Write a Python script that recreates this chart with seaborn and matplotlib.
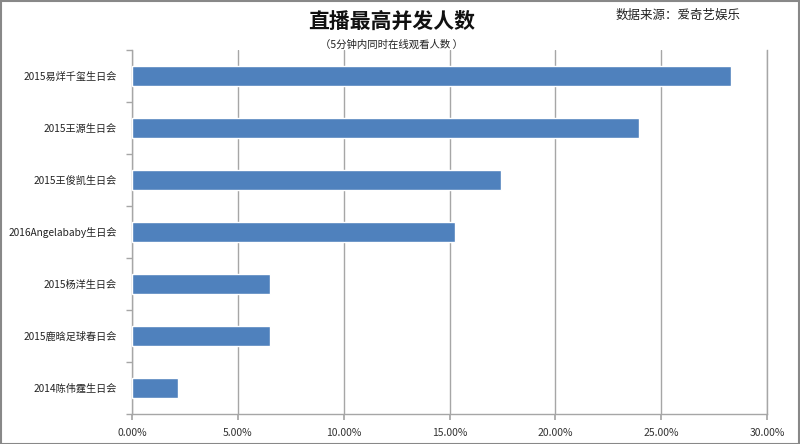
import matplotlib
matplotlib.use("Agg")
import matplotlib.pyplot as plt
import seaborn as sns
import pandas as pd
import numpy as np
from matplotlib.ticker import FuncFormatter, FixedLocator
from matplotlib.patches import Rectangle

categories = ["2015易烊千玺生日会", "2015王源生日会", "2015王俊凯生日会",
              "2016Angelababy生日会", "2015杨洋生日会", "2015鹿晗足球春日会",
              "2014陈伟霆生日会"]
values = [28.3, 23.95, 17.43, 15.26, 6.52, 6.52, 2.17]
xticks = [0, 5, 10, 15, 20, 25, 30]

sns.set_theme(style="white")
plt.rcParams['font.family'] = ['Noto Sans CJK SC', 'DejaVu Sans']

df = pd.DataFrame({"cat": categories, "val": values})

fig = plt.figure(figsize=(8, 4.44), dpi=100)
ax = fig.add_axes([0.165, 0.0676, 0.79375, 0.82])

sns.barplot(data=df, x="val", y="cat", orient="h", color="#4F81BD",
            saturation=1, width=0.4, ax=ax, zorder=3)

ax.set_xlim(0, 30)
ax.set_ylim(6.5, -0.5)
ax.set_xticks(xticks)
ax.xaxis.set_major_formatter(FuncFormatter(lambda v, p: f"{v:.2f}%"))
ax.set_xlabel("")
ax.set_ylabel("")
ax.grid(axis="x", color="#A6A6A6", linewidth=1, zorder=0)
ax.grid(axis="y", visible=False)
ax.spines["top"].set_visible(False)
for s in ["left", "bottom", "right"]:
    ax.spines[s].set_visible(True)
    ax.spines[s].set_color("#A6A6A6")
    ax.spines[s].set_linewidth(1)

ax.tick_params(axis="x", which="major", bottom=True, length=4, color="#A6A6A6",
               labelsize=7.5, labelcolor="#333333", pad=6)
ax.tick_params(axis="y", which="major", left=False, labelsize=7.3,
               labelcolor="#222222", pad=5)
ax.yaxis.set_minor_locator(FixedLocator(np.arange(-0.5, 7, 1)))
ax.tick_params(axis="y", which="minor", left=True, right=False, length=4, color="#A6A6A6")

fig.text(0.49, 0.952, "直播最高并发人数", ha="center", va="center",
         fontsize=15, fontweight="bold", color="#111111")
fig.text(0.49, 0.900, "（5分钟内同时在线观看人数 ）", ha="center", va="center",
         fontsize=7.5, color="#222222")
fig.text(0.77, 0.965, "数据来源：爱奇艺娱乐", ha="left", va="center",
         fontsize=9, color="#222222")

fig.patches.append(Rectangle((0.001, 0.001), 0.998, 0.997, transform=fig.transFigure,
                             fill=False, edgecolor="#888888", linewidth=1.5))

fig.savefig("out.png", dpi=100)
